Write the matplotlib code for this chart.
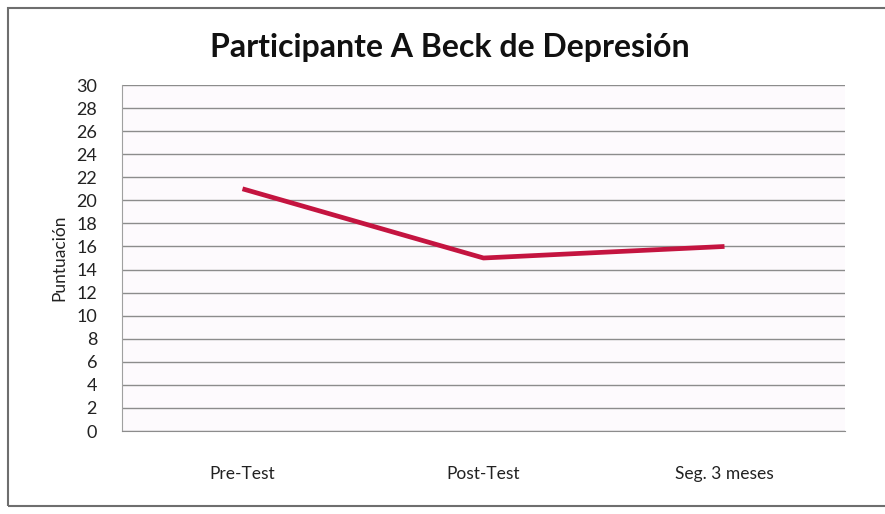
import matplotlib as mpl
mpl.use('Agg')
import matplotlib.pyplot as plt
from matplotlib.patches import Rectangle

plt.rcParams['font.family'] = ['Lato', 'DejaVu Sans']

etapas = ['Pre-Test', 'Post-Test', 'Seg. 3 meses']
puntuacion = [21, 15, 16]
yticks = list(range(0, 31, 2))

fig = plt.figure(figsize=(8.85, 5.14), dpi=100)
fig.patches.append(Rectangle((8 / 885, 8 / 514), 1.0, 1 - 16 / 514,
                             transform=fig.transFigure, fill=False,
                             edgecolor='#6e6e6e', linewidth=1.5))

ax = fig.add_axes([122 / 885, 1 - 431 / 514, 723 / 885, 346 / 514])
ax.set_facecolor('#fdfafd')
x = range(len(etapas))
ax.plot(x, puntuacion, color='#c41440', linewidth=3.4, solid_capstyle='butt')

ax.set_xlim(-0.5, 2.5)
ax.set_ylim(0, 30)
ax.set_yticks(yticks)
ax.set_xticks(list(x))
ax.set_xticklabels(etapas)
ax.grid(axis='y', color='#8c8c8c', linewidth=1)
ax.set_axisbelow(True)
for s in ['top', 'right']:
    ax.spines[s].set_visible(False)
ax.spines['left'].set_color('#a0a0a0')
ax.spines['bottom'].set_color('#8c8c8c')
ax.tick_params(axis='x', length=0, labelsize=12.5, colors='#222222', pad=25)
ax.tick_params(axis='y', length=0, labelsize=13, colors='#222222', pad=18)
ax.set_ylabel('Puntuación', fontsize=12.5, color='#222222', labelpad=6)

fig.text(450 / 885, 1 - 48 / 514, 'Participante A Beck de Depresión',
         ha='center', va='center', fontsize=23, fontweight='bold', color='#111111')

fig.savefig('out.png', dpi=100)
